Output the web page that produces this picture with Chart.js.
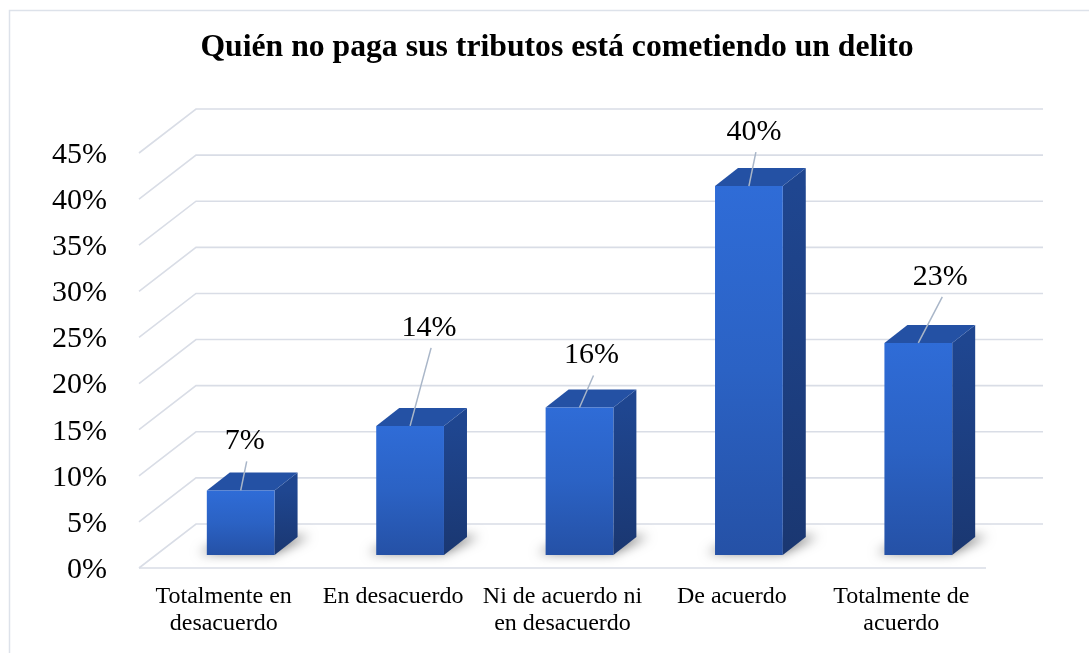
<!DOCTYPE html>
<html><head><meta charset="utf-8">
<script src="https://cdn.jsdelivr.net/npm/chart.js@4/dist/chart.umd.min.js"></script>
<style>html,body{margin:0;padding:0;background:#fff}#wrap{width:1089px;height:653px}</style>
</head><body><div id="wrap"><canvas id="c" width="1089" height="653"></canvas></div>
<script>
const titleText = 'Quién no paga sus tributos está cometiendo un delito';
const categories = [['Totalmente en','desacuerdo'],['En desacuerdo'],['Ni de acuerdo ni','en desacuerdo'],['De acuerdo'],['Totalmente de','acuerdo']];
const values = [7, 14, 16, 40, 23];
const yTickLabels = ['0%','5%','10%','15%','20%','25%','30%','35%','40%','45%'];
const valueLabels = ['7%','14%','16%','40%','23%'];

const FONT = "'Liberation Serif', 'Times New Roman', serif";

function frontGradient(context) {
  const chart = context.chart;
  const ys = chart.scales.y;
  if (!ys || !chart.chartArea) return '#2d67cf';
  const top = ys.getPixelForValue(context.raw);
  const bot = ys.getPixelForValue(0);
  const g = chart.ctx.createLinearGradient(0, top, 0, bot);
  g.addColorStop(0, '#2f6cd7');
  g.addColorStop(0.5, '#2b62c4');
  g.addColorStop(1, '#2551a6');
  return g;
}

const threeD = {
  id: 'threeD',
  beforeDraw(chart, args, o) {
    const ctx = chart.ctx;
    ctx.save();
    ctx.strokeStyle = '#dde2ea';
    ctx.lineWidth = 1.5;
    ctx.beginPath();
    ctx.moveTo(9.5, 700); ctx.lineTo(9.5, 10.5); ctx.lineTo(1200, 10.5);
    ctx.stroke();
    ctx.fillStyle = '#000';
    ctx.font = 'bold 31.7px ' + FONT;
    ctx.textAlign = 'center';
    ctx.textBaseline = 'alphabetic';
    ctx.fillText(o.title, o.titleX, o.titleY);
    ctx.restore();
  },
  beforeDatasetsDraw(chart, args, o) {
    const ctx = chart.ctx, a = chart.chartArea, ys = chart.scales.y;
    const W = o.wall, B = o.bar;
    ctx.save();
    ctx.strokeStyle = '#d9dde6';
    ctx.lineWidth = 1.6;
    ys.ticks.forEach(t => {
      const y = ys.getPixelForValue(t.value);
      ctx.beginPath();
      ctx.moveTo(a.left, y);
      ctx.lineTo(a.left + W.dx, y + W.dy);
      ctx.lineTo(a.right + W.dx, y + W.dy);
      ctx.stroke();
    });
    const y0 = ys.getPixelForValue(0);
    ctx.beginPath(); ctx.moveTo(a.left, y0); ctx.lineTo(a.right, y0); ctx.stroke();
    ctx.restore();

    const meta = chart.getDatasetMeta(0);
    // soft floor shadows (shape drawn off-canvas, only its blurred shadow lands on the floor)
    const OFF = 3000;
    meta.data.forEach(el => {
      const p = el.getProps(['x','y','base','width'], true);
      const x0 = p.x - p.width/2 + B.fx, x1 = p.x + p.width/2 + B.fx, yb = p.base + B.fy;
      ctx.save();
      ctx.shadowColor = 'rgba(0,0,0,0.55)';
      ctx.shadowBlur = 12;
      ctx.shadowOffsetX = OFF;
      ctx.shadowOffsetY = 0;
      ctx.fillStyle = '#000';
      ctx.beginPath();
      ctx.moveTo(x0 - 8 - OFF, yb - 2);
      ctx.lineTo(x1 - OFF, yb - 2);
      ctx.lineTo(x1 + B.dx + 12 - OFF, yb + B.dy - 1);
      ctx.lineTo(x0 + B.dx - OFF, yb + B.dy + 2);
      ctx.closePath();
      ctx.fill();
      ctx.restore();
    });
    // side and top faces
    meta.data.forEach(el => {
      const p = el.getProps(['x','y','base','width'], true);
      const x0 = p.x - p.width/2 + B.fx, x1 = p.x + p.width/2 + B.fx;
      const yt = p.y + B.fy, yb = p.base + B.fy;
      ctx.save();
      const sg = ctx.createLinearGradient(0, yt, 0, yb);
      sg.addColorStop(0, '#1f4690');
      sg.addColorStop(1, '#1a3771');
      ctx.fillStyle = sg;
      ctx.beginPath();
      ctx.moveTo(x1, yt); ctx.lineTo(x1 + B.dx, yt + B.dy);
      ctx.lineTo(x1 + B.dx, yb + B.dy); ctx.lineTo(x1, yb);
      ctx.closePath(); ctx.fill();
      ctx.fillStyle = '#2451a4';
      ctx.beginPath();
      ctx.moveTo(x0, yt); ctx.lineTo(x0 + B.dx, yt + B.dy);
      ctx.lineTo(x1 + B.dx, yt + B.dy); ctx.lineTo(x1, yt);
      ctx.closePath(); ctx.fill();
      ctx.restore();
    });
  },
  beforeDatasetDraw(chart, args, o) {
    chart.ctx.save();
    chart.ctx.translate(o.bar.fx, o.bar.fy);
  },
  afterDatasetDraw(chart, args, o) {
    chart.ctx.restore();
  },
  afterDatasetsDraw(chart, args, o) {
    const ctx = chart.ctx, B = o.bar;
    const meta = chart.getDatasetMeta(0);
    ctx.save();
    meta.data.forEach((el, i) => {
      const p = el.getProps(['x','y'], true);
      const ax = p.x + B.fx, ay = p.y + B.fy;
      const n = o.nudge[i];
      const lx = ax + n[0], ly = ay + n[1];
      ctx.strokeStyle = '#a9b6c8';
      ctx.lineWidth = 1.5;
      ctx.beginPath();
      ctx.moveTo(lx + 2, ly + 20);
      ctx.lineTo(ax, ay);
      ctx.stroke();
      ctx.fillStyle = '#000';
      ctx.font = '30px ' + FONT;
      ctx.textAlign = 'center';
      ctx.textBaseline = 'middle';
      ctx.fillText(valueLabels[i], lx, ly);
    });
    ctx.restore();
  }
};

new Chart(document.getElementById('c'), {
  type: 'bar',
  data: {
    labels: categories,
    datasets: [{
      data: values,
      backgroundColor: frontGradient,
      borderWidth: 0,
      barPercentage: 0.4,
      categoryPercentage: 1.0,
      clip: false
    }]
  },
  options: {
    responsive: false,
    animation: false,
    devicePixelRatio: 1,
    layout: { padding: { left: 0, right: 103, top: 153, bottom: 0 } },
    plugins: {
      legend: { display: false },
      tooltip: { enabled: false },
      title: { display: false },
      threeD: {
        title: titleText, titleX: 557, titleY: 56,
        wall: { dx: 57, dy: -44 },
        bar: { fx: 17, fy: -13, dx: 23, dy: -18 },
        nudge: [[4,-49],[19,-98],[12,-52],[5,-54],[22,-66]]
      }
    },
    scales: {
      x: {
        grid: { display: false, drawTicks: false },
        border: { display: false },
        ticks: { color: '#000', font: { family: FONT, size: 24, lineHeight: 1.125 }, padding: 15.5, maxRotation: 0, autoSkip: false },
        afterFit(s) { s.height = 85; }
      },
      y: {
        min: 0, max: 45,
        grid: { display: false, drawTicks: false },
        border: { display: false },
        ticks: { stepSize: 5, color: '#000', font: { family: FONT, size: 30 }, padding: 32, labelOffset: 2,
          callback: (v, i) => yTickLabels[i] },
        afterFit(s) { s.width = 139; }
      }
    }
  },
  plugins: [threeD]
});
</script></body></html>
